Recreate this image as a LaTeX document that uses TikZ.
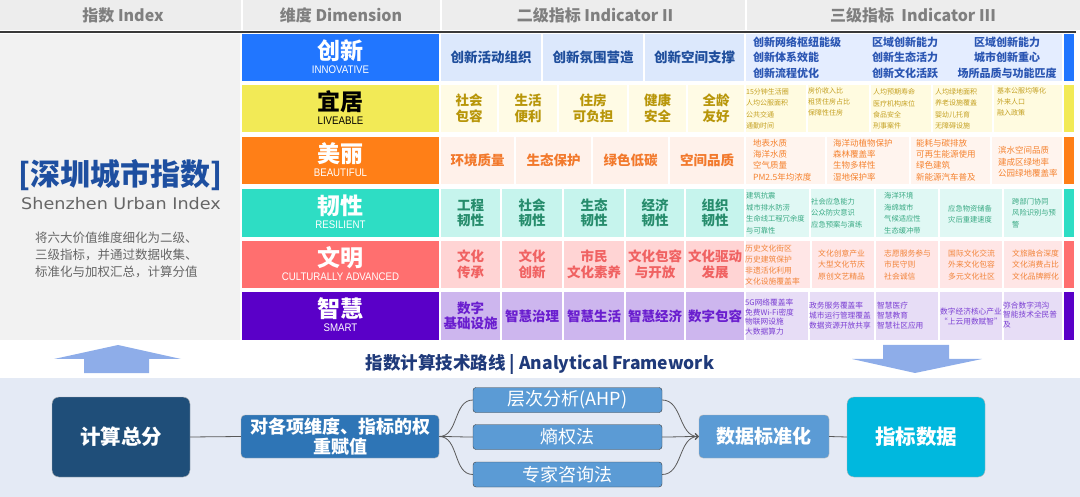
\documentclass[tikz,border=0pt]{standalone}
\usepackage{fontspec}
\usepackage{graphicx}
\setmainfont{Noto Sans CJK SC}
\newfontfamily\latinfont{Liberation Sans}
\newfontfamily\dejavufont{DejaVu Sans}
\usetikzlibrary{positioning}
\usetikzlibrary{arrows.meta}

\newcommand{\fs}[2]{\fontsize{#1}{#2}\selectfont}

\definecolor{hdrbg}{HTML}{EDEDED}
\definecolor{hdrtext}{HTML}{7F7F7F}
\definecolor{hdrline}{HTML}{3A3A3A}
\definecolor{panelbg}{HTML}{F2F2F2}
\definecolor{titleblue}{HTML}{1E4FA0}
\definecolor{subgray}{HTML}{666666}
% dimensions
\definecolor{dimA}{HTML}{2176FF}\definecolor{twoA}{HTML}{DCE8FC}\definecolor{twoAt}{HTML}{1F4E9C}\definecolor{thrA}{HTML}{E4EDFF}\definecolor{thrAt}{HTML}{2B56B3}
\definecolor{dimB}{HTML}{F2EA56}\definecolor{twoB}{HTML}{FFFBE5}\definecolor{twoBt}{HTML}{B8960A}\definecolor{thrB}{HTML}{FFFBE0}\definecolor{thrBt}{HTML}{C4A021}
\definecolor{dimC}{HTML}{FF7F17}\definecolor{twoC}{HTML}{FFF1EA}\definecolor{twoCt}{HTML}{F2792C}\definecolor{thrC}{HTML}{FFF4EE}\definecolor{thrCt}{HTML}{F5822F}
\definecolor{dimD}{HTML}{2EDDC4}\definecolor{twoD}{HTML}{C6F4ED}\definecolor{twoDt}{HTML}{268C6C}\definecolor{thrD}{HTML}{E0F8F4}\definecolor{thrDt}{HTML}{3AAA84}
\definecolor{dimE}{HTML}{FF6F6F}\definecolor{twoE}{HTML}{FFD4D4}\definecolor{twoEt}{HTML}{F06262}\definecolor{thrE}{HTML}{FFE6E6}\definecolor{thrEt}{HTML}{F2843A}
\definecolor{dimF}{HTML}{5A00C8}\definecolor{twoF}{HTML}{CDB6EE}\definecolor{twoFt}{HTML}{6A1ECF}\definecolor{thrF}{HTML}{E7DDF6}\definecolor{thrFt}{HTML}{7B3FD3}
% framework
\definecolor{fwbg}{HTML}{E4EAF5}
\definecolor{bigarrow}{HTML}{8EADE9}
\definecolor{fwtitle}{HTML}{1F3A7A}
\definecolor{totalc}{HTML}{1F4E79}
\definecolor{weightc}{HTML}{2E75B6}
\definecolor{methodc}{HTML}{5B9BD5}
\definecolor{datac}{HTML}{00B8DE}
\definecolor{linkgray}{HTML}{595959}

\begin{document}
\begin{tikzpicture}[x=1pt,y=-1pt,
  hdr/.style={font=\fs{16}{16}\bfseries,text=hdrtext,inner sep=0},
  dimcn/.style={font=\fs{23}{23}\bfseries,text=white,inner sep=0},
  dimen/.style={font=\latinfont\fs{11}{11},text=white,inner sep=0},
  lvtwo/.style={font=\fs{13.5}{15.5}\bfseries,align=center,inner sep=0},
  lvthree/.style={align=left,inner sep=0,anchor=west},
  fwbox/.style={rounded corners=7pt,text=white,draw=gray!60,inner sep=0,align=center},
  method/.style={rounded corners=3pt,fill=methodc,draw=darkgray,text=white,font=\fs{18}{18},
    minimum width=189pt,minimum height=25pt,inner sep=0},
  link/.style={draw=linkgray,line width=0.8pt}]
\useasboundingbox (0,0) rectangle (1080,497);

% header
\fill[hdrbg] (0,0) rectangle (1080,30);
\foreach \x in {242,441,746} \draw[white,line width=2pt] (\x,0) -- (\x,30);
\node[hdr] (hIndex) at (123,15) {指数 Index};
\node[hdr] (hDim) at (341,15) {维度 Dimension};
\node[hdr] (hTwo) at (595,15) {二级指标 Indicator II};
\node[hdr] (hThree) at (913,15) {三级指标~ Indicator III};
\draw[hdrline,line width=2pt] (0,32) -- (1076,32);

% left panel
\fill[panelbg] (0,34) rectangle (240,340);
\node[font=\fs{30}{30}\bfseries,text=titleblue,inner sep=0] (title) at (121,175) {[深圳城市指数]};
\node[font=\dejavufont\fs{16}{16},text=subgray,inner sep=0] (titleEn) at (121,204) {\scalebox{1.1}[1]{Shenzhen Urban Index}};
\node[font=\fs{12.5}{17},text=subgray,align=left,inner sep=0,anchor=north west] (desc) at (35,232)
  {将六大价值维度细化为二级、\\三级指标，并通过数据收集、\\标准化与加权汇总，计算分值};

% row 1 innovative
\fill[dimA] (242,34) rectangle (439,81);
\node[dimcn] (dInno) at (340.5,51) {创新};
\node[dimen] (dInnoEn) at (340.5,70) {\scalebox{0.88}[1]{INNOVATIVE}};
\foreach \a/\b/\t [count=\i] in {441/541/创新活动组织,543/643/创新氛围营造,645/744/创新空间支撑}{
  \fill[twoA] (\a,34) rectangle (\b,81);
  \node[lvtwo,text=twoAt] (inno\i) at ({(\a+\b)/2},57.5) {\t};
}
\fill[thrA] (746,34) rectangle (1062,81);
\node[lvthree,font=\fs{11}{15.5}\bfseries,text=thrAt] (innoA) at (753,57.5) {创新网络枢纽能级\\创新体系效能\\创新流程优化};
\node[lvthree,font=\fs{11}{15.5}\bfseries,text=thrAt] (innoB) at (872,57.5) {区域创新能力\\创新生态活力\\创新文化活跃};
\node[font=\fs{11}{15.5}\bfseries,text=thrAt,align=center,inner sep=0] (innoC) at (1007,57.5) {区域创新能力\\城市创新重心\\场所品质与功能匹度};
\fill[dimA] (1064,34) rectangle (1074,81);

% row 2 liveable
\fill[dimB] (242,85) rectangle (439,132);
\node[dimcn,text=black] (dLive) at (340.5,102) {宜居};
\node[dimen,text=black] (dLiveEn) at (340.5,121) {\scalebox{0.88}[1]{LIVEABLE}};
\foreach \a/\b/\t [count=\i] in {441/497/{社会\\包容},499/557/{生活\\便利},559/627/{住房\\可负担},629/686/{健康\\安全},688/744/{全龄\\友好}}{
  \fill[twoB] (\a,85) rectangle (\b,132);
  \node[lvtwo,text=twoBt] (live\i) at ({(\a+\b)/2},108.5) {\t};
}
\foreach \a/\b in {746/806,808/869,871/931,933/992,994/1062} \fill[thrB] (\a,85) rectangle (\b,132);
\tikzset{lvthree/.append style={font=\fs{7}{11.3},text=thrBt}}
\node[lvthree] (liveA) at (746,109) {15分钟生活圈\\人均公服面积\\公共交通\\通勤时间};
\node[lvthree,anchor=north west] (liveB) at (808,87) {房价收入比\\租赁住房占比\\保障性住房};
\node[lvthree] (liveC) at (873,109) {人均预期寿命\\医疗机构床位\\食品安全\\刑事案件};
\node[lvthree] (liveD) at (935,109) {人均绿地面积\\养老设施覆盖\\婴幼儿托育\\无障碍设施};
\node[lvthree,anchor=north west] (liveE) at (997,87) {基本公服均等化\\外来人口\\融入政策};
\fill[dimB] (1064,85) rectangle (1074,132);

% row 3 beautiful
\fill[dimC] (242,137) rectangle (439,184);
\node[dimcn] (dBeau) at (340.5,154) {美丽};
\node[dimen] (dBeauEn) at (340.5,173) {\scalebox{0.88}[1]{BEAUTIFUL}};
\foreach \a/\b/\t [count=\i] in {441/514/环境质量,516/591/生态保护,593/668/绿色低碳,670/744/空间品质}{
  \fill[twoC] (\a,137) rectangle (\b,184);
  \node[lvtwo,text=twoCt] (beau\i) at ({(\a+\b)/2},160.5) {\t};
}
\foreach \a/\b in {746/825,827/909,911/990,992/1062} \fill[thrC] (\a,137) rectangle (\b,184);
\tikzset{lvthree/.append style={font=\fs{8.5}{11.3},text=thrCt}}
\node[lvthree] (beauA) at (753,160) {地表水质\\海洋水质\\空气质量\\PM2.5年均浓度};
\node[lvthree] (beauB) at (833,160) {海洋动植物保护\\森林覆盖率\\生物多样性\\湿地保护率};
\node[lvthree] (beauC) at (916,160) {能耗与碳排放\\可再生能源使用\\绿色建筑\\新能源汽车普及};
\node[lvthree] (beauD) at (998,162) {滨水空间品质\\建成区绿地率\\公园绿地覆盖率};
\fill[dimC] (1064,137) rectangle (1074,184);

% row 4 resilient
\fill[dimD] (242,189) rectangle (439,237);
\node[dimcn] (dResi) at (340.5,206) {韧性};
\node[dimen] (dResiEn) at (340.5,225) {\scalebox{0.88}[1]{RESILIENT}};
\foreach \a/\b/\t [count=\i] in {441/500/{工程\\韧性},502/562/{社会\\韧性},564/624/{生态\\韧性},626/684/{经济\\韧性},686/744/{组织\\韧性}}{
  \fill[twoD] (\a,189) rectangle (\b,237);
  \node[lvtwo,text=twoDt] (resi\i) at ({(\a+\b)/2},213) {\t};
}
\foreach \a/\b in {746/809,811/874,876/938,940/1002,1004/1062} \fill[thrD] (\a,189) rectangle (\b,237);
\tikzset{lvthree/.append style={font=\fs{7.3}{11.5},text=thrDt}}
\node[lvthree] (resiA) at (746,213) {建筑抗震\\城市排水防涝\\生命线工程冗余度\\与可靠性};
\node[lvthree] (resiB) at (811,213) {社会应急能力\\公众防灾意识\\应急预案与演练};
\node[lvthree] (resiC) at (884,213) {海洋环境\\海绵城市\\气候适应性\\生态缓冲带};
\node[lvthree] (resiD) at (948,214) {应急物资储备\\灾后重建速度};
\node[lvthree] (resiE) at (1012,213) {跨部门协同\\风险识别与预\\警};
\fill[dimD] (1064,189) rectangle (1074,237);

% row 5 culturally advanced
\fill[dimE] (242,241) rectangle (439,288);
\node[dimcn] (dCult) at (340.5,258) {文明};
\node[dimen] (dCultEn) at (340.5,277) {\scalebox{0.88}[1]{CULTURALLY ADVANCED}};
\foreach \a/\b/\t [count=\i] in {441/500/{文化\\传承},502/562/{文化\\创新},564/624/{市民\\文化素养},626/684/{文化包容\\与开放},686/744/{文化驱动\\发展}}{
  \fill[twoE] (\a,241) rectangle (\b,288);
  \node[lvtwo,text=twoEt] (cult\i) at ({(\a+\b)/2},264.5) {\t};
}
\foreach \a/\b in {746/810,812/874,876/938,940/1002,1004/1062} \fill[thrE] (\a,241) rectangle (\b,288);
\tikzset{lvthree/.append style={font=\fs{7.8}{11.3},text=thrEt}}
\node[lvthree] (cultA) at (745,265) {历史文化街区\\历史建筑保护\\非遗活化利用\\文化设施覆盖率};
\node[lvthree] (cultB) at (818,265) {文化创意产业\\大型文化节庆\\原创文艺精品};
\node[lvthree] (cultC) at (884,265) {志愿服务参与\\市民守则\\社会诚信};
\node[lvthree] (cultD) at (948,265) {国际文化交流\\外来文化包容\\多元文化社区};
\node[lvthree] (cultE) at (1012,265) {文旅融合深度\\文化消费占比\\文化品牌孵化};
\fill[dimE] (1064,241) rectangle (1074,288);

% row 6 smart
\fill[dimF] (242,292) rectangle (439,340);
\node[dimcn] (dSmart) at (340.5,309) {智慧};
\node[dimen] (dSmartEn) at (340.5,328) {\scalebox{0.88}[1]{SMART}};
\foreach \a/\b/\t [count=\i] in {441/500/{数字\\基础设施},502/562/智慧治理,564/624/智慧生活,626/684/智慧经济,686/744/数字包容}{
  \fill[twoF] (\a,292) rectangle (\b,340);
  \node[lvtwo,text=twoFt] (smart\i) at ({(\a+\b)/2},316) {\t};
}
\foreach \a/\b in {746/808,810/874,876/938,940/1002,1004/1062} \fill[thrF] (\a,292) rectangle (\b,340);
\tikzset{lvthree/.append style={font=\fs{7.7}{9.7},text=thrFt}}
\node[lvthree] (smartA) at (745,317) {5G网络覆盖率\\免费Wi-Fi密度\\物联网设施\\大数据算力};
\node[lvthree] (smartB) at (809,315.5) {政务服务覆盖率\\城市运行管理覆盖\\数据资源开放共享};
\node[lvthree] (smartC) at (877,315.5) {智慧医疗\\智慧教育\\智慧社区应用};
\node[lvthree] (smartD) at (940,316.5) {数字经济核心产业\\“上云用数赋智”};
\node[lvthree] (smartE) at (1003,315) {弥合数字鸿沟\\智能技术全民普\\及};
\fill[dimF] (1064,292) rectangle (1074,340);

% framework
\fill[fwbg] (0,378) rectangle (1080,497);
\fill[bigarrow] (84,373) -- (84,359) -- (54,359) -- (118,345) -- (181,359) -- (149,359) -- (149,373) -- cycle;
\fill[bigarrow] (883,345) -- (949,345) -- (949,359) -- (982,359) -- (915,373) -- (852,359) -- (883,359) -- cycle;
\node[font=\fs{17.5}{17.5}\bfseries,text=fwtitle,inner sep=0] (fwTitle) at (540,364) {指数计算技术路线 | Analytical Framework};

\node[fwbox,fill=totalc,minimum width=138pt,minimum height=80pt,font=\fs{20.5}{20.5}\bfseries] (total) at (121,437) {计算总分};
\node[fwbox,fill=weightc,minimum width=198pt,minimum height=43pt,rounded corners=4pt,font=\fs{18}{19.5}\bfseries] (weight) at (340,436.5) {对各项维度、指标的权\\重赋值};
\node[method] (ahp) at (567.5,400) {层次分析(AHP)};
\node[method] (entropy) at (567.5,437) {熵权法};
\node[method] (expert) at (567.5,474.5) {专家咨询法};
\node[fwbox,fill=methodc,minimum width=130pt,minimum height=43pt,rounded corners=4pt,font=\fs{19}{19}\bfseries] (std) at (764,436.5) {数据标准化};
\node[fwbox,fill=datac,minimum width=138pt,minimum height=80pt,font=\fs{20.5}{20.5}\bfseries] (data) at (916,437) {指标数据};

\draw[link] (total.east) -- (weight.west);
\foreach \m in {ahp,entropy,expert}{
  \draw[link] (weight.east) to[out=0,in=180] (\m.west);
  \draw[link,-{Straight Barb[length=3pt,width=6pt]}] (\m.east) to[out=0,in=180] (std.west);
}
\draw[link] (std.east) -- (data.west);
\end{tikzpicture}
\end{document}
